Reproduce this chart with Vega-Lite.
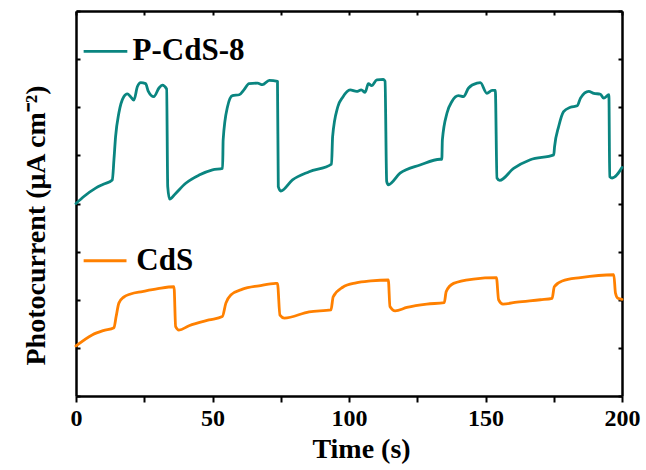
{
  "$schema": "https://vega.github.io/schema/vega-lite/v6.json",
  "width": 546,
  "height": 385,
  "autosize": "none",
  "padding": {"left": 76, "top": 11, "right": 24, "bottom": 74},
  "background": "white",
  "config": {
    "view": {"stroke": null},
    "axis": {"grid": false, "domainColor": "black", "tickColor": "black", "domainWidth": 2.5, "tickWidth": 2,
      "labelFont": "Liberation Serif", "labelFontWeight": "bold", "labelColor": "black",
      "titleFont": "Liberation Serif", "titleFontWeight": "bold", "titleColor": "black"}
  },
  "datasets": {
    "curves": [
      {"s":"P-CdS-8","t":0,"v":4.00},{"s":"P-CdS-8","t":3,"v":4.15},{"s":"P-CdS-8","t":7.2,"v":4.32},{"s":"P-CdS-8","t":10,"v":4.40},
      {"s":"P-CdS-8","t":13.3,"v":4.49},{"s":"P-CdS-8","t":13.9,"v":4.91},{"s":"P-CdS-8","t":14.5,"v":5.39},{"s":"P-CdS-8","t":15.7,"v":5.88},
      {"s":"P-CdS-8","t":17.5,"v":6.22},{"s":"P-CdS-8","t":18.8,"v":6.28},{"s":"P-CdS-8","t":20,"v":6.22},{"s":"P-CdS-8","t":21.2,"v":6.15},
      {"s":"P-CdS-8","t":22.5,"v":6.43},{"s":"P-CdS-8","t":23.7,"v":6.51},{"s":"P-CdS-8","t":25.5,"v":6.49},{"s":"P-CdS-8","t":26.5,"v":6.33},
      {"s":"P-CdS-8","t":28.5,"v":6.22},{"s":"P-CdS-8","t":30.4,"v":6.40},{"s":"P-CdS-8","t":31.6,"v":6.46},{"s":"P-CdS-8","t":33.2,"v":6.38},
      {"s":"P-CdS-8","t":33.6,"v":4.35},{"s":"P-CdS-8","t":34.3,"v":4.09},{"s":"P-CdS-8","t":36.5,"v":4.21},{"s":"P-CdS-8","t":40.2,"v":4.42},
      {"s":"P-CdS-8","t":45.1,"v":4.59},{"s":"P-CdS-8","t":50,"v":4.70},{"s":"P-CdS-8","t":53.7,"v":4.73},{"s":"P-CdS-8","t":53.9,"v":5.32},
      {"s":"P-CdS-8","t":55.5,"v":6.01},{"s":"P-CdS-8","t":57.3,"v":6.24},{"s":"P-CdS-8","t":59.8,"v":6.26},{"s":"P-CdS-8","t":61.5,"v":6.36},
      {"s":"P-CdS-8","t":63.4,"v":6.49},{"s":"P-CdS-8","t":66.5,"v":6.50},{"s":"P-CdS-8","t":68.3,"v":6.47},{"s":"P-CdS-8","t":70.8,"v":6.56},
      {"s":"P-CdS-8","t":73.8,"v":6.54},{"s":"P-CdS-8","t":74.1,"v":4.35},{"s":"P-CdS-8","t":75,"v":4.26},{"s":"P-CdS-8","t":79.3,"v":4.49},
      {"s":"P-CdS-8","t":85.4,"v":4.66},{"s":"P-CdS-8","t":93.6,"v":4.82},{"s":"P-CdS-8","t":94,"v":5.39},{"s":"P-CdS-8","t":95.9,"v":6.01},
      {"s":"P-CdS-8","t":97.7,"v":6.21},{"s":"P-CdS-8","t":100.4,"v":6.36},{"s":"P-CdS-8","t":102.8,"v":6.33},{"s":"P-CdS-8","t":104.5,"v":6.36},
      {"s":"P-CdS-8","t":105.9,"v":6.31},{"s":"P-CdS-8","t":107.1,"v":6.49},{"s":"P-CdS-8","t":108.3,"v":6.45},{"s":"P-CdS-8","t":110.2,"v":6.57},
      {"s":"P-CdS-8","t":112.6,"v":6.58},{"s":"P-CdS-8","t":113.2,"v":6.54},{"s":"P-CdS-8","t":113.8,"v":4.46},{"s":"P-CdS-8","t":114.4,"v":4.39},
      {"s":"P-CdS-8","t":118.7,"v":4.63},{"s":"P-CdS-8","t":126,"v":4.80},{"s":"P-CdS-8","t":133.4,"v":4.92},{"s":"P-CdS-8","t":134,"v":4.92},
      {"s":"P-CdS-8","t":134.2,"v":5.32},{"s":"P-CdS-8","t":135.9,"v":5.88},{"s":"P-CdS-8","t":137.7,"v":6.12},{"s":"P-CdS-8","t":140.1,"v":6.24},
      {"s":"P-CdS-8","t":141.9,"v":6.22},{"s":"P-CdS-8","t":143.8,"v":6.40},{"s":"P-CdS-8","t":146.9,"v":6.50},{"s":"P-CdS-8","t":148.1,"v":6.51},
      {"s":"P-CdS-8","t":150.5,"v":6.29},{"s":"P-CdS-8","t":152.4,"v":6.35},{"s":"P-CdS-8","t":153.6,"v":6.35},{"s":"P-CdS-8","t":154.2,"v":4.53},
      {"s":"P-CdS-8","t":155.2,"v":4.48},{"s":"P-CdS-8","t":160.3,"v":4.73},{"s":"P-CdS-8","t":166.4,"v":4.91},{"s":"P-CdS-8","t":175,"v":5.01},
      {"s":"P-CdS-8","t":175.3,"v":5.18},{"s":"P-CdS-8","t":176.8,"v":5.60},{"s":"P-CdS-8","t":178.6,"v":5.91},{"s":"P-CdS-8","t":181.1,"v":6.00},
      {"s":"P-CdS-8","t":183.6,"v":6.03},{"s":"P-CdS-8","t":184.8,"v":6.19},{"s":"P-CdS-8","t":187.8,"v":6.33},{"s":"P-CdS-8","t":189.7,"v":6.29},
      {"s":"P-CdS-8","t":192.1,"v":6.27},{"s":"P-CdS-8","t":193.3,"v":6.19},{"s":"P-CdS-8","t":195.2,"v":6.26},{"s":"P-CdS-8","t":195.5,"v":4.56},
      {"s":"P-CdS-8","t":196.4,"v":4.53},{"s":"P-CdS-8","t":200,"v":4.75},
      {"s":"CdS","t":0,"v":1.04},{"s":"CdS","t":5.9,"v":1.27},{"s":"CdS","t":10,"v":1.36},{"s":"CdS","t":13.9,"v":1.42},
      {"s":"CdS","t":14.7,"v":1.65},{"s":"CdS","t":15.7,"v":1.93},{"s":"CdS","t":17.6,"v":2.06},{"s":"CdS","t":20,"v":2.12},
      {"s":"CdS","t":24.3,"v":2.17},{"s":"CdS","t":30,"v":2.23},{"s":"CdS","t":35.9,"v":2.27},{"s":"CdS","t":36.5,"v":1.44},
      {"s":"CdS","t":37.7,"v":1.37},{"s":"CdS","t":41.4,"v":1.46},{"s":"CdS","t":48.7,"v":1.58},{"s":"CdS","t":53.6,"v":1.65},
      {"s":"CdS","t":54.9,"v":1.93},{"s":"CdS","t":56.7,"v":2.10},{"s":"CdS","t":61,"v":2.22},{"s":"CdS","t":67,"v":2.29},
      {"s":"CdS","t":73.2,"v":2.34},{"s":"CdS","t":73.8,"v":2.34},{"s":"CdS","t":74.7,"v":1.68},{"s":"CdS","t":76.3,"v":1.62},
      {"s":"CdS","t":85.4,"v":1.75},{"s":"CdS","t":93.4,"v":1.79},{"s":"CdS","t":94.2,"v":2.06},{"s":"CdS","t":97.7,"v":2.26},
      {"s":"CdS","t":102.6,"v":2.35},{"s":"CdS","t":108,"v":2.39},{"s":"CdS","t":114.4,"v":2.41},{"s":"CdS","t":115,"v":1.86},
      {"s":"CdS","t":116.9,"v":1.77},{"s":"CdS","t":121.2,"v":1.84},{"s":"CdS","t":128.5,"v":1.91},{"s":"CdS","t":134.9,"v":1.94},
      {"s":"CdS","t":135.6,"v":2.17},{"s":"CdS","t":138.3,"v":2.34},{"s":"CdS","t":145.6,"v":2.43},{"s":"CdS","t":154,"v":2.46},
      {"s":"CdS","t":154.8,"v":2.00},{"s":"CdS","t":156.4,"v":1.91},{"s":"CdS","t":161.5,"v":1.95},{"s":"CdS","t":170.1,"v":2.00},
      {"s":"CdS","t":174.4,"v":2.03},{"s":"CdS","t":175.2,"v":2.27},{"s":"CdS","t":178.1,"v":2.39},{"s":"CdS","t":184.8,"v":2.46},
      {"s":"CdS","t":197,"v":2.52},{"s":"CdS","t":197.6,"v":2.14},{"s":"CdS","t":198.5,"v":2.03},{"s":"CdS","t":200,"v":2.01}
    ],
    "legend": [
      {"s":"P-CdS-8","t1":2.8,"t2":18.8,"v":7.16,"tx":20.7},
      {"s":"CdS","t1":2.8,"t2":18.5,"v":2.81,"tx":22.1}
    ]
  },
  "layer": [
    {
      "data": {"name": "curves"},
      "mark": {"type": "line", "strokeWidth": 2.8, "strokeJoin": "round", "strokeCap": "round", "interpolate": "monotone"},
      "encoding": {
        "x": {"field": "t", "type": "quantitative", "scale": {"domain": [0, 200], "nice": false},
          "axis": {"orient": "bottom", "values": [0,25,50,75,100,125,150,175,200],
            "labelExpr": "datum.value % 50 == 0 ? datum.label : ''",
            "tickSize": 6, "labelFontSize": 24, "labelPadding": 4, "labelFlush": false,
            "title": "Time (s)", "titleFontSize": 28, "titleX": 285, "titleY": 53, "titleBaseline": "middle"}},
        "y": {"field": "v", "type": "quantitative", "scale": {"domain": [0, 8], "nice": false},
          "axis": {"orient": "left", "values": [0,1,2,3,4,5,6,7,8], "labels": false, "tickSize": -4,
            "title": "Photocurrent (μA cm⁻²)", "titleFontSize": 28, "titleAngle": 270,
            "titleX": -40, "titleY": 214, "titleAlign": "center", "titleBaseline": "middle"}},
        "color": {"field": "s", "type": "nominal",
          "scale": {"domain": ["P-CdS-8", "CdS"], "range": ["#0a8580", "#ff8000"]}, "legend": null},
        "detail": {"field": "s"}
      }
    },
    {
      "data": {"name": "legend"},
      "mark": {"type": "rule", "strokeWidth": 2.8},
      "encoding": {
        "x": {"field": "t1", "type": "quantitative",
          "axis": {"orient": "top", "values": [0,25,50,75,100,125,150,175,200], "labels": false, "tickSize": -4, "title": null}},
        "x2": {"field": "t2"},
        "y": {"field": "v", "type": "quantitative",
          "axis": {"orient": "right", "values": [0,1,2,3,4,5,6,7,8], "labels": false, "tickSize": -4, "title": null}},
        "color": {"field": "s", "type": "nominal", "legend": null}
      }
    },
    {
      "data": {"name": "legend"},
      "mark": {"type": "text", "align": "left", "baseline": "middle", "font": "Liberation Serif", "fontWeight": "bold", "fontSize": 31, "color": "black"},
      "encoding": {
        "x": {"field": "tx", "type": "quantitative", "axis": null},
        "y": {"field": "v", "type": "quantitative", "axis": null},
        "text": {"field": "s"}
      }
    }
  ],
  "resolve": {"axis": {"x": "independent", "y": "independent"}}
}
